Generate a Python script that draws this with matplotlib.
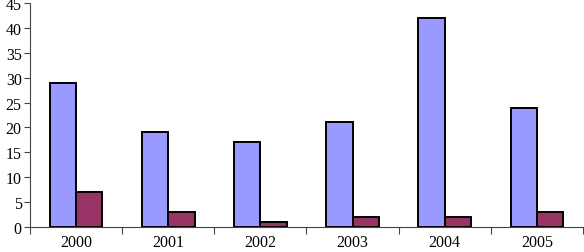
import matplotlib.pyplot as plt
import numpy as np

years = ["2000", "2001", "2002", "2003", "2004", "2005"]
series_a = [29, 19, 17, 21, 42, 24]
series_b = [7, 3, 1, 2, 2, 3]

plt.rcParams["font.family"] = ["Liberation Serif", "DejaVu Serif"]

fig = plt.figure(figsize=(5.84, 2.53), dpi=100)
ax = fig.add_axes([30 / 584, 25 / 253, 553 / 584, 224 / 253])

x = np.arange(len(years))
w = 0.285
ax.bar(x - w / 2, series_a, width=w, color="#9999FF", edgecolor="black", linewidth=1.4)
ax.bar(x + w / 2, series_b, width=w, color="#993366", edgecolor="black", linewidth=1.4)

ax.set_xlim(-0.5, len(years) - 0.5)
ax.set_ylim(0, 45)
ax.set_yticks(range(0, 46, 5))
ax.set_xticks(x)
ax.set_xticklabels(years)
ax.set_xticks(np.arange(-0.5, len(years), 1), minor=True)

for side in ["top", "right"]:
    ax.spines[side].set_visible(False)
for side in ["left", "bottom"]:
    ax.spines[side].set_color("#444444")
    ax.spines[side].set_linewidth(0.8)

ax.tick_params(axis="x", which="major", length=0, labelsize=11.5, pad=5)
ax.tick_params(axis="x", which="minor", length=5, color="#444444", width=0.8)
ax.tick_params(axis="y", length=4, color="#444444", width=0.8, labelsize=11.5, pad=2)

fig.savefig("out.png", dpi=100)
